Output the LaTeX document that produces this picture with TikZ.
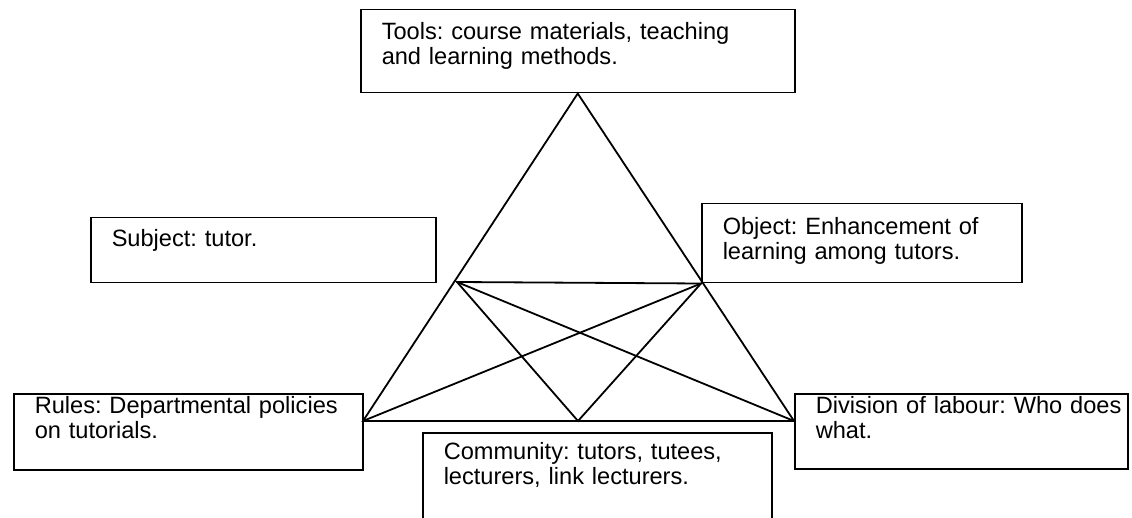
\documentclass[tikz,border=0pt]{standalone}
\usepackage{fontspec}
\setmainfont{Liberation Sans}

\tikzstyle{box} = [rectangle,
anchor=north west,
draw=black,
line width=1.5pt,
inner sep=0pt,
align=left,
font=\fontsize{23.6}{25}\selectfont\frenchspacing,
execute at begin node={\leftskip=21pt}]
\tikzstyle{edge} = [line width=1.8pt]

\begin{document}
\begin{tikzpicture}[x=1pt, y=-1pt]
\useasboundingbox (0,0) rectangle (1132,518);
\clip (0,0) rectangle (1132,518);
\fill[white] (0,0) rectangle (1132,518);

\node (tools) [box, text width=434pt, text height=30pt, text depth=53pt] at (360,9) {Tools: course materials, teaching\\and learning methods.};
\node (subject) [box, text width=345pt, text height=29pt, text depth=36pt] at (90,217) {Subject: tutor.};
\node (object) [box, text width=320pt, text height=31pt, text depth=48pt] at (701,203) {Object: Enhancement of\\learning among tutors.};
\node (rules) [box, text width=349pt, text height=20pt, text depth=56pt] at (13,393) {Rules: Departmental policies\\on tutorials.};
\node (division) [box, text width=333pt, text height=20pt, text depth=55pt] at (794,393) {Division of labour: Who does\\what.};
\node (community) [box, text width=349pt, text height=27pt, text depth=100pt] at (422,432) {Community: tutors, tutees,\\lecturers, link lecturers.};

% corners of the triangle
\coordinate (top) at (tools.south);
\coordinate (left) at (363,421);
\coordinate (right) at (794,421);
\coordinate (inl) at (457,282);
\coordinate (inr) at (object.south west);
\coordinate (mid) at (578,421);

\draw [edge] (top) -- (left) -- (right) -- cycle;
\draw [edge] (inl) -- (inr) -- (mid) -- cycle;
\draw [edge] (inl) -- (right);
\draw [edge] (inr) -- (left);

\end{tikzpicture}
\end{document}
